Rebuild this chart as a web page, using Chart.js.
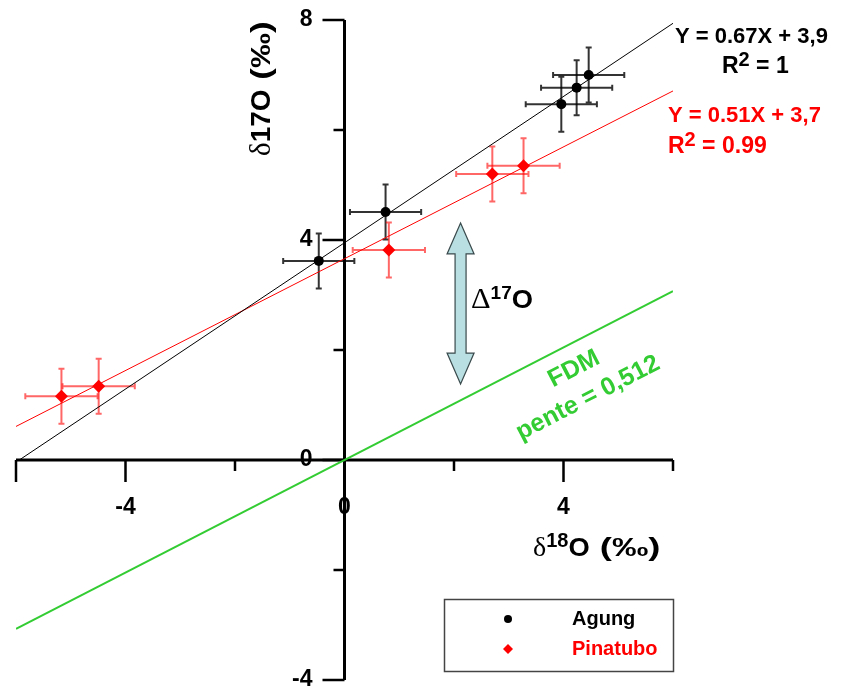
<!DOCTYPE html>
<html>
<head>
<meta charset="utf-8">
<script src="https://cdn.jsdelivr.net/npm/chart.js@4.4.0/dist/chart.umd.min.js"></script>
<style>
  html, body { margin: 0; padding: 0; background: #fff; }
</style>
</head>
<body>
<canvas id="c" width="844" height="691"></canvas>
<script>
// measured points (delta 18O, delta 17O) and their error bars
const agungX = [-0.47, 0.75, 3.96, 4.24, 4.46];
const agungY = [3.62, 4.51, 6.47, 6.77, 7.00];
const agungErrX = [0.65, 0.65, 0.65, 0.65, 0.65];
const agungErrY = [0.5, 0.5, 0.5, 0.5, 0.5];

const pinaX = [-5.17, -4.49, 0.81, 2.70, 3.27];
const pinaY = [1.16, 1.34, 3.82, 5.20, 5.35];
const pinaErrX = [0.66, 0.66, 0.66, 0.66, 0.66];
const pinaErrY = [0.5, 0.5, 0.5, 0.5, 0.5];

// fit lines, end points
const agungFitX = [-5.94, 6];
const agungFitY = [0.0, 7.94];
const pinaFitX = [-6, 6];
const pinaFitY = [0.61, 6.71];
const fdmX = [-6, 6];
const fdmY = [-3.07, 3.07];

// Delta17O arrow (x, y top, y bottom)
const arrowX = 2.12;
const arrowY = [4.31, 1.38];

const xTicks = [-6, -4, -2, 0, 2, 4, 6];
const xLabels = [-4, 0, 4];
const yTicks = [-4, -2, 0, 2, 4, 6, 8];
const yLabels = [-4, 0, 4, 8];

const pts = (xs, ys) => xs.map((x, i) => ({ x: x, y: ys[i] }));

const SANS = '"Liberation Sans", Arial, sans-serif';
const SERIF = '"Liberation Serif", "Times New Roman", serif';

// draw a row of text pieces with different fonts / offsets / stretch
const textRuns = (ctx, parts, x, y, align) => {
    let w = 0;
    parts.forEach(p => { ctx.font = p.f; p.w = ctx.measureText(p.t).width * (p.sx || 1); w += p.w; });
    let cx = align === 'center' ? x - w / 2 : align === 'right' ? x - w : x;
    ctx.textAlign = 'left';
    parts.forEach(p => {
        ctx.font = p.f;
        ctx.save();
        ctx.translate(cx, y + (p.dy || 0));
        ctx.scale(p.sx || 1, 1);
        ctx.fillText(p.t, 0, 0);
        ctx.restore();
        cx += p.w;
    });
};

const axesPlugin = {
    id: 'axes',
    beforeDatasetsDraw( chart ) {
        const ctx = chart.ctx;
        const sx = chart.scales.x, sy = chart.scales.y;
        const x0 = sx.getPixelForValue( 0 ), y0 = sy.getPixelForValue( 0 );
        ctx.save();
        ctx.strokeStyle = '#000';
        ctx.lineWidth = 3;
        ctx.beginPath();
        ctx.moveTo( sx.getPixelForValue( -6 ), y0 );
        ctx.lineTo( sx.getPixelForValue( 6 ), y0 );
        ctx.moveTo( x0, sy.getPixelForValue( 8 ) );
        ctx.lineTo( x0, sy.getPixelForValue( -4 ) );
        ctx.stroke();

        ctx.lineWidth = 2.5;
        ctx.beginPath();
        xTicks.forEach( v => {
            const px = sx.getPixelForValue( v );
            const len = xLabels.includes( v ) || v === -6 ? 22 : 11;
            ctx.moveTo( px, y0 );
            ctx.lineTo( px, y0 + len );
        } );
        yTicks.forEach( v => {
            const py = sy.getPixelForValue( v );
            const len = yLabels.includes( v ) ? 22 : 11;
            ctx.moveTo( x0, py );
            ctx.lineTo( x0 - len, py );
        } );
        ctx.stroke();

        ctx.fillStyle = '#000';
        ctx.font = 'bold 23px ' + SANS;
        ctx.textBaseline = 'middle';
        ctx.textAlign = 'center';
        xLabels.forEach( v => ctx.fillText( String( v ), sx.getPixelForValue( v ), y0 + 48 ) );
        ctx.textAlign = 'right';
        yLabels.forEach( v => ctx.fillText( String( v ), x0 - 32, sy.getPixelForValue( v ) ) );
        ctx.restore();
    }
};

const errorBars = {
    id: 'errorBars',
    beforeDatasetsDraw( chart ) {
        const ctx = chart.ctx;
        const sx = chart.scales.x, sy = chart.scales.y;
        ctx.save();
        chart.data.datasets.forEach( ds => {
            if ( !ds.errX ) return;
            ctx.strokeStyle = ds.errColor;
            ctx.lineWidth = 2;
            ds.data.forEach( ( p, i ) => {
                const l = sx.getPixelForValue( p.x - ds.errX[i] );
                const r = sx.getPixelForValue( p.x + ds.errX[i] );
                const t = sy.getPixelForValue( p.y + ds.errY[i] );
                const b = sy.getPixelForValue( p.y - ds.errY[i] );
                const px = sx.getPixelForValue( p.x ), py = sy.getPixelForValue( p.y );
                ctx.beginPath();
                ctx.moveTo( l, py ); ctx.lineTo( r, py );
                ctx.moveTo( px, t ); ctx.lineTo( px, b );
                ctx.moveTo( l, py - 3 ); ctx.lineTo( l, py + 3 );
                ctx.moveTo( r, py - 3 ); ctx.lineTo( r, py + 3 );
                ctx.moveTo( px - 3, t ); ctx.lineTo( px + 3, t );
                ctx.moveTo( px - 3, b ); ctx.lineTo( px + 3, b );
                ctx.stroke();
            } );
        } );
        ctx.restore();
    }
};

const annotations = {
    id: 'annotations',
    afterDatasetsDraw( chart ) {
        const ctx = chart.ctx;
        const sx = chart.scales.x, sy = chart.scales.y;
        ctx.save();

        // double arrow
        const ax = sx.getPixelForValue( arrowX );
        const at = sy.getPixelForValue( arrowY[0] ), ab = sy.getPixelForValue( arrowY[1] );
        const sw = 5.5, hw = 13.5, hl = 31;
        ctx.beginPath();
        ctx.moveTo( ax, at );
        ctx.lineTo( ax + hw, at + hl );
        ctx.lineTo( ax + sw, at + hl );
        ctx.lineTo( ax + sw, ab - hl );
        ctx.lineTo( ax + hw, ab - hl );
        ctx.lineTo( ax, ab );
        ctx.lineTo( ax - hw, ab - hl );
        ctx.lineTo( ax - sw, ab - hl );
        ctx.lineTo( ax - sw, at + hl );
        ctx.lineTo( ax - hw, at + hl );
        ctx.closePath();
        ctx.fillStyle = '#b9dfe2';
        ctx.fill();
        ctx.strokeStyle = '#3a4a4c';
        ctx.lineWidth = 1.2;
        ctx.stroke();

        ctx.textBaseline = 'alphabetic';
        ctx.fillStyle = '#000';
        textRuns( ctx, [
            { t: '\u0394', f: '29px ' + SERIF, sx: 1.05 },
            { t: '17', f: 'bold 19px ' + SANS, dy: -9 },
            { t: 'O', f: 'bold 26px ' + SANS, sx: 1.05 }
        ], 471, 308, 'left' );

        // axis titles
        textRuns( ctx, [
            { t: '\u03b4', f: '28px ' + SERIF },
            { t: '18', f: 'bold 20px ' + SANS, dy: -9 },
            { t: 'O', f: 'bold 26px ' + SANS, sx: 1.05 },
            { t: ' (\u2030)', f: 'bold 26px ' + SANS, sx: 1.4 }
        ], 533, 556, 'left' );

        ctx.save();
        ctx.translate( 270, 156 );
        ctx.rotate( -Math.PI / 2 );
        textRuns( ctx, [
            { t: '\u03b4', f: '29px ' + SERIF },
            { t: '17O', f: 'bold 28px ' + SANS },
            { t: ' (\u2030)', f: 'bold 28px ' + SANS, sx: 1.25 }
        ], 0, 0, 'left' );
        ctx.restore();

        // regression equations
        ctx.fillStyle = '#000';
        textRuns( ctx, [ { t: 'Y = 0.67X + 3,9', f: 'bold 22px ' + SANS } ], 675, 43, 'left' );
        textRuns( ctx, [
            { t: 'R', f: 'bold 23px ' + SANS },
            { t: '2', f: 'bold 20px ' + SANS, dy: -7 },
            { t: ' = 1', f: 'bold 23px ' + SANS }
        ], 722, 73, 'left' );
        ctx.fillStyle = '#ff0000';
        textRuns( ctx, [ { t: 'Y = 0.51X + 3,7', f: 'bold 22px ' + SANS } ], 668, 122, 'left' );
        textRuns( ctx, [
            { t: 'R', f: 'bold 23px ' + SANS },
            { t: '2', f: 'bold 20px ' + SANS, dy: -7 },
            { t: ' = 0.99', f: 'bold 23px ' + SANS }
        ], 668, 153, 'left' );

        // FDM label along the green line
        const ang = Math.atan2( sy.getPixelForValue( fdmY[1] ) - sy.getPixelForValue( fdmY[0] ),
                                sx.getPixelForValue( fdmX[1] ) - sx.getPixelForValue( fdmX[0] ) );
        ctx.fillStyle = '#33cc33';
        ctx.font = 'bold 25px ' + SANS;
        ctx.textAlign = 'center';
        ctx.textBaseline = 'middle';
        ctx.save();
        ctx.translate( 574, 369 );
        ctx.rotate( ang );
        ctx.fillText( 'FDM', 0, 0 );
        ctx.restore();
        ctx.save();
        ctx.translate( 588, 398 );
        ctx.rotate( ang );
        ctx.fillText( 'pente = 0,512', 0, 0 );
        ctx.restore();

        // legend box
        ctx.strokeStyle = '#444';
        ctx.lineWidth = 1.5;
        ctx.strokeRect( 444.5, 599.5, 229, 72 );
        ctx.textAlign = 'left';
        ctx.font = 'bold 20px ' + SANS;
        const items = chart.data.datasets.filter( d => d.errX );
        items.forEach( ( d, i ) => {
            const ly = 619 + i * 30;
            ctx.fillStyle = d.backgroundColor;
            ctx.beginPath();
            if ( d.pointStyle === 'rectRot' ) {
                ctx.moveTo( 508, ly - 5 ); ctx.lineTo( 513, ly ); ctx.lineTo( 508, ly + 5 ); ctx.lineTo( 503, ly );
                ctx.closePath();
            } else {
                ctx.arc( 508, ly, 4, 0, Math.PI * 2 );
            }
            ctx.fill();
            ctx.fillText( d.label, 572, ly );
        } );
        ctx.restore();
    }
};

new Chart( document.getElementById( 'c' ), {
    type: 'scatter',
    data: {
        datasets: [
            {
                label: 'Agung',
                data: pts( agungX, agungY ),
                errX: agungErrX, errY: agungErrY, errColor: 'rgba(0,0,0,0.8)',
                pointStyle: 'circle', pointRadius: 5,
                backgroundColor: '#000', borderColor: '#000', borderWidth: 0,
                order: 0
            },
            {
                label: 'Pinatubo',
                data: pts( pinaX, pinaY ),
                errX: pinaErrX, errY: pinaErrY, errColor: 'rgba(255,0,0,0.6)',
                pointStyle: 'rectRot', pointRadius: 6.5,
                backgroundColor: '#ff0000', borderColor: '#ff0000', borderWidth: 0,
                order: 0
            },
            {
                label: 'fit Agung', data: pts( agungFitX, agungFitY ),
                showLine: true, pointRadius: 0, borderColor: '#000', borderWidth: 1, order: 1
            },
            {
                label: 'fit Pinatubo', data: pts( pinaFitX, pinaFitY ),
                showLine: true, pointRadius: 0, borderColor: '#ff0000', borderWidth: 1, order: 1
            },
            {
                label: 'FDM', data: pts( fdmX, fdmY ),
                showLine: true, pointRadius: 0, borderColor: '#33cc33', borderWidth: 2, order: 1
            }
        ]
    },
    options: {
        responsive: false,
        animation: false,
        events: [],
        layout: { padding: { left: 16, right: 171, top: 20, bottom: 11 } },
        plugins: { legend: { display: false }, tooltip: { enabled: false } },
        scales: {
            x: { type: 'linear', min: -6, max: 6, display: false },
            y: { type: 'linear', min: -4, max: 8, display: false }
        }
    },
    plugins: [ axesPlugin, errorBars, annotations ]
} );
</script>
</body>
</html>
